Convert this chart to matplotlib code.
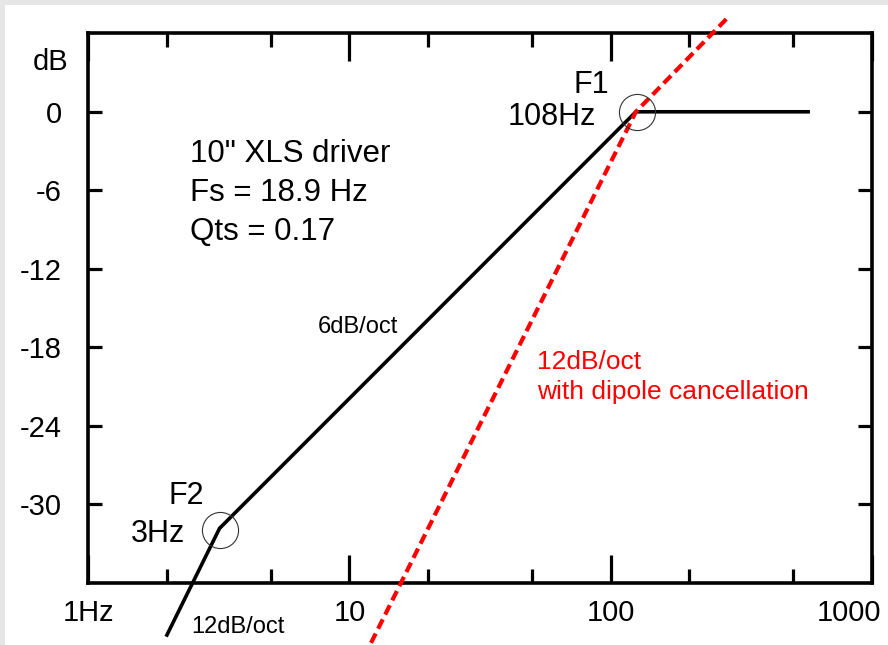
import matplotlib
matplotlib.use("Agg")
import matplotlib.pyplot as plt
from matplotlib.patches import Rectangle
import matplotlib.transforms as mtransforms

plt.rcParams['font.family'] = ['Liberation Sans', 'DejaVu Sans']

# ---- data ----
driver_freq = [2.0, 3.18, 125.0, 571.0]      # Hz
driver_db = [-40.0, -31.85, 0.0, 0.0]        # dB

dipole_freq = [12.1, 125.0, 281.0]           # Hz
dipole_db = [-40.6, 0.0, 7.2]                # dB

corner_freq = [3.18, 125.8]                  # F2, F1
corner_db = [-32.0, 0.0]

x_major = [1, 10, 100, 1000]
x_major_labels = ["1Hz", "10", "100", "1000"]
x_minor = [2, 5, 20, 50, 200, 500]
y_ticks = [0, -6, -12, -18, -24, -30]
y_labels = ["0", "-6", "-12", "-18", "-24", "-30"]

W, H = 888, 645
fig = plt.figure(figsize=(W / 100, H / 100), dpi=100)
fig.patch.set_facecolor('#e6e6e6')
bg = Rectangle((5 / W, 0), 1 - 5 / W, 1 - 5 / H, transform=fig.transFigure,
               facecolor='white', edgecolor='none', zorder=-10)
fig.add_artist(bg)

ax = fig.add_axes([88.3 / W, 1 - 582.7 / H, (871.7 - 88.3) / W, (582.7 - 33.3) / H])
ax.set_facecolor('white')
ax.set_xscale('log')
ax.set_xlim(1, 1000)
ax.set_ylim(-36, 6)

for s in ax.spines.values():
    s.set_linewidth(2.6)
    s.set_color('black')

ax.set_xticks(x_major)
ax.set_xticklabels(x_major_labels)
ax.set_xticks(x_minor, minor=True)
ax.xaxis.set_minor_formatter(matplotlib.ticker.NullFormatter())
ax.set_yticks(y_ticks)
ax.set_yticklabels(y_labels)
ax.tick_params(axis='x', which='major', direction='in', length=20, width=2.3,
               top=True, bottom=True, labelsize=21, pad=12)
ax.tick_params(axis='x', which='minor', direction='in', length=10, width=2.3,
               top=True, bottom=True)
ax.tick_params(axis='y', which='major', direction='in', length=10, width=2.3,
               left=True, right=True, labelsize=21, pad=19)

# shift "1000" label to stay inside the figure
labels = ax.get_xticklabels()
labels[-1].set_horizontalalignment('right')
labels[-1].set_transform(labels[-1].get_transform() +
                         mtransforms.ScaledTranslation(10 / 100, 0, fig.dpi_scale_trans))

# lines
ax.plot(driver_freq, driver_db, color='black', lw=2.6, clip_on=False, zorder=3,
        solid_joinstyle='miter')
ax.plot(dipole_freq, dipole_db, color='#ff0000', lw=3.0, ls=(0, (2.5, 1.3)),
        clip_on=False, zorder=4)
ax.plot(corner_freq, corner_db, ls='none', marker='o', markersize=26,
        markerfacecolor='none', markeredgecolor='#333333', markeredgewidth=0.8,
        zorder=5, clip_on=False)


def ftext(x, y, s, **kw):
    fig.text(x / W, 1 - y / H, s, **kw)


ftext(51, 70, "dB", fontsize=21, ha='center', va='baseline')
ftext(190, 162, "10\" XLS driver", fontsize=22.5, ha='left', va='baseline')
ftext(190, 201, "Fs = 18.9 Hz", fontsize=22.5, ha='left', va='baseline')
ftext(190, 240, "Qts = 0.17", fontsize=22.5, ha='left', va='baseline')
ftext(591, 93, "F1", fontsize=22, ha='center', va='baseline')
ftext(552, 125, "108Hz", fontsize=22, ha='center', va='baseline')
ftext(186, 504, "F2", fontsize=22, ha='center', va='baseline')
ftext(158, 541.7, "3Hz", fontsize=22, ha='center', va='baseline')
ftext(358, 333, "6dB/oct", fontsize=17, ha='center', va='baseline')
ftext(238, 633, "12dB/oct", fontsize=17, ha='center', va='baseline')
ftext(536.7, 369.3, "12dB/oct", fontsize=19, ha='left', va='baseline', color='#ff0000')
ftext(536.7, 399.3, "with dipole cancellation", fontsize=19, ha='left', va='baseline',
      color='#ff0000')

fig.savefig('out.png', dpi=100, facecolor=fig.get_facecolor())
